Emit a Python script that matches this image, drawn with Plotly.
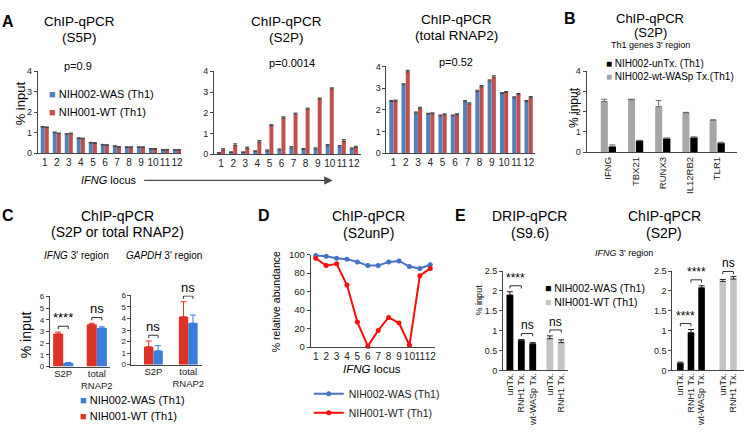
import plotly.graph_objects as go

W, H = 750, 432
FONT = "Liberation Sans, Arial, sans-serif"

# ---------------- data ----------------
locus = [1, 2, 3, 4, 5, 6, 7, 8, 9, 10, 11, 12]

# A: ChIP-qPCR S5P
a1_was = [1.27, 1.0, 0.92, 0.72, 0.5, 0.4, 0.33, 0.28, 0.28, 0.2, 0.15, 0.15]
a1_was_err = [0.03, 0.03, 0.03, 0.03, 0.03, 0.03, 0.03, 0.03, 0.03, 0.02, 0.02, 0.02]
a1_wt = [1.25, 0.95, 0.95, 0.7, 0.48, 0.38, 0.3, 0.28, 0.28, 0.2, 0.16, 0.15]
a1_wt_err = [0.03, 0.03, 0.03, 0.03, 0.03, 0.03, 0.03, 0.03, 0.03, 0.02, 0.02, 0.02]
# A: ChIP-qPCR S2P
a2_was = [0.05, 0.08, 0.08, 0.12, 0.15, 0.2, 0.3, 0.22, 0.25, 0.4, 0.35, 0.25]
a2_was_err = [0.02, 0.03, 0.03, 0.04, 0.05, 0.05, 0.06, 0.05, 0.05, 0.06, 0.06, 0.05]
a2_wt = [0.2, 0.42, 0.28, 0.58, 1.38, 1.75, 1.93, 2.17, 2.66, 3.15, 0.62, 0.32]
a2_wt_err = [0.06, 0.08, 0.06, 0.08, 0.04, 0.05, 0.05, 0.05, 0.05, 0.05, 0.08, 0.06]
# A: ChIP-qPCR total RNAP2
a3_was = [2.38, 3.15, 1.85, 1.8, 1.72, 1.72, 2.37, 2.85, 3.33, 2.75, 2.55, 2.38]
a3_was_err = [0.05, 0.05, 0.05, 0.04, 0.04, 0.04, 0.05, 0.05, 0.05, 0.04, 0.05, 0.05]
a3_wt = [2.4, 3.75, 2.05, 1.82, 1.77, 1.77, 2.27, 3.06, 3.5, 2.8, 2.7, 2.55]
a3_wt_err = [0.05, 0.07, 0.07, 0.04, 0.04, 0.05, 0.05, 0.06, 0.07, 0.04, 0.05, 0.06]

# B: S2P at Th1 genes 3' region
b_genes = ["IFNG", "TBX21", "RUNX3", "IL12RB2", "TLR1"]
b_untx = [0.28, 0.57, 0.68, 0.72, 0.45]
b_untx_err = [0.08, 0.02, 0.02, 0.04, 0.04]
b_wasp = [2.5, 2.6, 2.25, 1.95, 1.58]
b_wasp_err = [0.12, 0.02, 0.3, 0.02, 0.02]

# C: S2P or total RNAP2
c_cats = ["S2P", "total<br>RNAP2"]
c1_wt = [2.8, 3.6]
c1_wt_err = [0.15, 0.1]
c1_was = [0.3, 3.3]
c1_was_err = [0.05, 0.1]
c2_wt = [1.55, 4.15]
c2_wt_err = [0.5, 1.3]
c2_was = [1.2, 3.6]
c2_was_err = [0.45, 0.7]
c1_sig = ["****", "ns"]
c2_sig = ["ns", "ns"]

# D: S2unP relative abundance
d_was = [99, 98, 96, 95, 92, 88, 88, 92, 93, 87, 85, 89]
d_wt = [96, 88, 90, 67, 27, 1, 18, 32, 26, 2, 77, 85]

# E: DRIP (S9.6) and ChIP (S2P)
e_black_cats = ["unTx.", "RNH1 Tx.", "wt-WASp Tx."]
e_grey_cats = ["unTx.", "RNH1 Tx."]
e1_black = [1.9, 0.76, 0.67]
e1_black_err = [0.08, 0.02, 0.03]
e1_grey = [0.8, 0.7]
e1_grey_err = [0.07, 0.07]
e2_black = [0.18, 0.95, 2.08]
e2_black_err = [0.03, 0.08, 0.05]
e2_grey = [2.24, 2.3]
e2_grey_err = [0.05, 0.06]

# ---------------- styles ----------------
BLUE_A, RED_A = "#4f81bd", "#c0504d"
BLUE_C, RED_C = "#3b7ddd", "#e03127"
BLUE_D, RED_D = "#4472c4", "#ff0d0d"
GREY_B, GREY_E = "#a6a6a6", "#c4c4c4"
AX = "#444444"

fig = go.Figure()
annotations = []
shapes = []


def fx(p):
    return p / W


def fy(p):
    return 1 - p / H


def text(t, x, y, size, xanchor="center", yanchor="middle", angle=0, color="black", bold=False):
    if bold:
        t = "<b>" + t + "</b>"
    annotations.append(dict(text=t, x=fx(x), y=fy(y), xref="paper", yref="paper",
                            showarrow=False, xanchor=xanchor, yanchor=yanchor,
                            textangle=angle, font=dict(family=FONT, size=size, color=color)))


def add_axes(i, x0, x1, ytop, ybot, xrange, yrange, ydtick, ytfs, xtickvals, xticktext,
             xtfs, xangle=0, standoff=0):
    xs = "xaxis" if i == 1 else f"xaxis{i}"
    ys = "yaxis" if i == 1 else f"yaxis{i}"
    xid = "x" if i == 1 else f"x{i}"
    yid = "y" if i == 1 else f"y{i}"
    fig.layout[xs] = dict(domain=[fx(x0), fx(x1)], range=xrange, anchor=yid,
                          showgrid=False, zeroline=False, showline=True, linecolor=AX,
                          linewidth=1, ticks="", tickvals=xtickvals, ticktext=xticktext,
                          tickangle=xangle, ticklabelstandoff=standoff,
                          tickfont=dict(family=FONT, size=xtfs, color="#222"),
                          fixedrange=True)
    fig.layout[ys] = dict(domain=[fy(ybot), fy(ytop)], range=yrange, anchor=xid,
                          showgrid=False, zeroline=False, showline=True, linecolor=AX,
                          linewidth=1, ticks="outside", ticklen=3, tickcolor=AX,
                          dtick=ydtick, tick0=0,
                          tickfont=dict(family=FONT, size=ytfs, color="#222"),
                          fixedrange=True)
    return xid, yid


def bars(xid, yid, xs, ys, err, color, width, offset, ecolor, ewidth=2):
    fig.add_trace(go.Bar(x=xs, y=ys, xaxis=xid, yaxis=yid, width=width, offset=offset,
                         marker=dict(color=color, line=dict(width=0)), showlegend=False,
                         error_y=dict(type="data", array=err, arrayminus=[0] * len(err),
                                      symmetric=False, color=ecolor, thickness=1,
                                      width=ewidth)))


def bracket(xid, yid, x0, x1, y, leg, label, size):
    shapes.append(dict(type="path", xref=xid, yref=yid,
                       path=f"M{x0},{y - leg} L{x0},{y} L{x1},{y} L{x1},{y - leg}",
                       line=dict(color="#333333", width=1)))
    annotations.append(dict(text=label, x=(x0 + x1) / 2, y=y, xref=xid, yref=yid,
                            showarrow=False, xanchor="center", yanchor="bottom",
                            yshift=-1, font=dict(family=FONT, size=size, color="black")))


# ---------------- Panel A ----------------
ticks12 = [str(v) for v in locus]
a_panels = [
    (1, 38, 182, 67, 151, [0.42, 12.35], a1_was, a1_was_err, a1_wt, a1_wt_err),
    (2, 215, 362, 67, 152, [0.42, 12.55], a2_was, a2_was_err, a2_wt, a2_wt_err),
    (3, 388, 537, 62, 151, [0.43, 12.5], a3_was, a3_was_err, a3_wt, a3_wt_err),
]
for (i, x0, x1, yt, yb, xr, was, was_e, wt, wt_e) in a_panels:
    xid, yid = add_axes(i, x0, x1, yt, yb, xr, [0, 4], 1, 9, locus, ticks12, 10)
    bars(xid, yid, locus, was, was_e, BLUE_A, 0.33, -0.34, "#404040")
    bars(xid, yid, locus, wt, wt_e, RED_A, 0.33, 0.0, "#404040")

text("A", 8, 16, 16, bold=True)
text("ChIP-qPCR", 80, 16, 13.5)
text("(S5P)", 80, 32, 13.5)
text("ChIP-qPCR", 288, 16, 13.5)
text("(S2P)", 288, 32, 13.5)
text("ChIP-qPCR", 458, 14, 13.5)
text("(total RNAP2)", 458, 30, 13.5)
text("p=0.9", 78, 62, 11)
text("p=0.0014", 293, 59, 11)
text("p=0.52", 458, 57, 11)
text("% input", 21, 100, 13, angle=-90)
text(f'<span style="color:{BLUE_A}">■</span> NIH002-WAS (Th1)', 47, 90, 11, xanchor="left")
text(f'<span style="color:{RED_A}">■</span> NIH001-WT (Th1)', 47, 109, 11, xanchor="left")
text("<i>IFNG</i> locus", 109, 179, 11)
annotations.append(dict(x=fx(334), y=fy(179), xref="paper", yref="paper", ax=-190, ay=0,
                        showarrow=True, arrowhead=2, arrowsize=1.3, arrowwidth=1.3,
                        arrowcolor="#4a4a4a", text=""))

# ---------------- Panel B ----------------
b_idx = list(range(len(b_genes)))
xid, yid = add_axes(4, 589, 740, 67, 150, [-0.8, 4.73], [0, 4], 1, 9, b_idx, b_genes, 9.5, -90)
bars(xid, yid, b_idx, b_wasp, b_wasp_err, GREY_B, 0.26, -0.28, "#666666", 3)
bars(xid, yid, b_idx, b_untx, b_untx_err, "#000000", 0.27, 0.01, "#666666", 3)
text("B", 572, 13, 16, bold=True)
text("ChIP-qPCR", 653, 13, 13)
text("(S2P)", 653, 27, 13)
text("Th1 genes 3' region", 653, 40, 9)
text("% input", 577, 104, 12, angle=-90)
text('<span style="color:#000000">■</span> NIH002-unTx. (Th1)', 606, 59, 10, xanchor="left")
text(f'<span style="color:{GREY_B}">■</span> NIH002-wt-WASp Tx.(Th1)', 606, 72, 10, xanchor="left")

# ---------------- Panel C ----------------
c_idx = list(range(len(c_cats)))
c_panels = [
    (5, 50, 110, 298, 370, [-0.4, 1.38], c1_wt, c1_wt_err, c1_was, c1_was_err, c1_sig, 0.3),
    (6, 132, 203, 297, 368, [-0.63, 1.4], c2_wt, c2_wt_err, c2_was, c2_was_err, c2_sig, 0.27),
]
for (i, x0, x1, yt, yb, xr, wt, wt_e, was, was_e, sig, bw) in c_panels:
    xid, yid = add_axes(i, x0, x1, yt, yb, xr, [0, 6], 1, 8, c_idx, c_cats, 9.5, 0, -2)
    bars(xid, yid, c_idx, wt, wt_e, RED_C, bw, -bw, RED_C, 3)
    bars(xid, yid, c_idx, was, was_e, BLUE_C, bw, 0.0, BLUE_C, 3)
    for k in c_idx:
        top = max(wt[k] + wt_e[k], was[k] + was_e[k])
        bracket(xid, yid, k - bw / 2, k + bw / 2, top + 0.5, 0.25, sig[k], 13)

text("C", 8, 215, 16, bold=True)
text("ChIP-qPCR", 118, 215, 14)
text("(S2P or total RNAP2)", 118, 232, 14)
text("<i>IFNG</i> 3' region", 77, 256, 10)
text("<i>GAPDH</i> 3' region", 165, 256, 10)
text("% input", 27, 337, 14, angle=-90)
text(f'<span style="color:{BLUE_C}">■</span> NIH002-WAS (Th1)', 78, 404, 11, xanchor="left")
text(f'<span style="color:{RED_C}">■</span> NIH001-WT (Th1)', 78, 421, 11, xanchor="left")

# ---------------- Panel D ----------------
xid, yid = add_axes(7, 312, 437, 255, 350, [0.52, 12.48], [0, 100], 20, 9.5, locus, ticks12, 10)
fig.add_trace(go.Scatter(x=locus, y=d_was, xaxis=xid, yaxis=yid, mode="lines+markers",
                         name="NIH002-WAS (Th1)", line=dict(color=BLUE_D, width=2),
                         marker=dict(size=5, color=BLUE_D), showlegend=True, cliponaxis=False))
fig.add_trace(go.Scatter(x=locus, y=d_wt, xaxis=xid, yaxis=yid, mode="lines+markers",
                         name="NIH001-WT (Th1)", line=dict(color=RED_D, width=2),
                         marker=dict(size=5, color=RED_D), showlegend=True, cliponaxis=False))
text("D", 265, 215, 16, bold=True)
text("ChIP-qPCR", 370, 215, 14)
text("(S2unP)", 370, 233, 14)
text("<i>IFNG</i> locus", 373, 372, 11.5)
text("% relative abundance", 277, 303, 10.5, angle=-90)

# ---------------- Panel E ----------------
e_panels = [
    (8, 505, 570, [-0.61, 5.07], e1_black, e1_black_err, e1_grey, e1_grey_err, 1.5,
     [(0, 1, "****"), (1, 2, "ns"), (3, 4, "ns")], 0.6),
    (9, 675, 747, [-0.76, 6.0], e2_black, e2_black_err, e2_grey, e2_grey_err, 2.0,
     [(0, 1, "****"), (1, 2, "****"), (3, 4, "ns")], 0.62),
]
for (i, x0, x1, xr, blk, blk_e, gry, gry_e, g, sigs, bw) in e_panels:
    bpos = list(range(len(blk)))
    gpos = [len(blk) - 1 + g + k for k in range(len(gry))]
    xid, yid = add_axes(i, x0, x1, 272, 374, xr, [0, 2.5], 0.5, 9, bpos + gpos,
                        e_black_cats + e_grey_cats, 9, -90, -2)
    bars(xid, yid, bpos, blk, blk_e, "#000000", bw, -bw / 2, "#222222", 3)
    bars(xid, yid, gpos, gry, gry_e, GREY_E, bw, -bw / 2, "#222222", 3)
    allpos = bpos + gpos
    allv = [v + e for v, e in zip(blk + gry, blk_e + gry_e)]
    for (a, b, lab) in sigs:
        top = max(allv[a], allv[b])
        bracket(xid, yid, allpos[a], allpos[b], min(top + 0.15, 2.49), 0.07, lab, 12)

text("E", 462, 215, 16, bold=True)
text("DRIP-qPCR", 532, 215, 14)
text("(S9.6)", 532, 233, 14)
text("ChIP-qPCR", 667, 215, 14)
text("(S2P)", 667, 233, 14)
text("<i>IFNG</i> 3' region", 627, 253, 9)
text("% input", 481, 302, 9, angle=-90)
text('<span style="color:#000000">■</span> NIH002-WAS (Th1)', 545, 289, 10.5, xanchor="left")
text(f'<span style="color:{GREY_E}">■</span> NIH001-WT (Th1)', 545, 304, 10.5, xanchor="left")

fig.update_layout(
    width=W, height=H, autosize=False,
    margin=dict(l=0, r=0, t=0, b=0),
    paper_bgcolor="white", plot_bgcolor="white",
    font=dict(family=FONT, color="black"),
    annotations=annotations, shapes=shapes,
    legend=dict(x=fx(310), y=fy(383), xanchor="left", yanchor="top",
                font=dict(family=FONT, size=10.5, color="#222"),
                bgcolor="rgba(0,0,0,0)", itemwidth=30, tracegroupgap=0),
    showlegend=True,
)

fig.write_html("out.html", config={"displayModeBar": False},
               post_script="document.body.style.margin='0px';")
